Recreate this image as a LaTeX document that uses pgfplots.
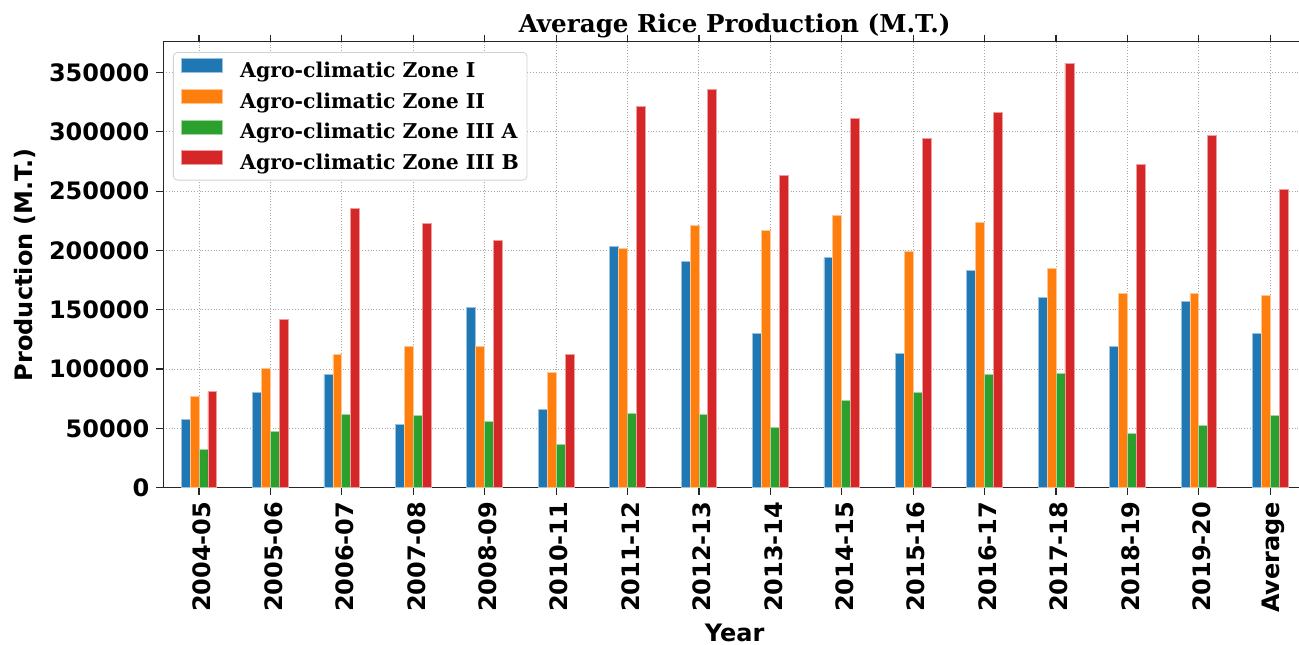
\documentclass[border=0pt]{standalone}
\usepackage{fontspec}
\setmainfont{DejaVu Sans}
\newfontfamily\serifbf{DejaVu Serif}
\usepackage{pgfplots}
\usepackage{pgfplotstable}
\pgfplotsset{compat=1.18}

\definecolor{zoneI}{HTML}{1F77B4}
\definecolor{zoneII}{HTML}{FF7F0E}
\definecolor{zoneIIIA}{HTML}{2CA02C}
\definecolor{zoneIIIB}{HTML}{D62728}

% Rice production (M.T.) per agro-climatic zone, one row per year
\pgfplotstableread{
x  z1     z2     z3    z4
0  57800  77200  32300 81200
1  80600  100600 47100 141600
2  95500  112400 61800 235500
3  53000  119100 60600 222500
4  152300 119400 55900 208200
5  66000  97500  36500 112600
6  203500 201800 62600 321200
7  190500 220800 61500 335800
8  130400 216600 51100 263600
9  193900 229600 73900 311100
10 112900 199500 80000 294500
11 183500 223700 95800 316100
12 160100 185200 96000 358000
13 119400 163800 45800 272600
14 156700 164100 52800 297000
15 130400 162100 61000 251500
}\ricedata

\begin{document}
\begin{tikzpicture}
\path[use as bounding box] (-81.65pt,-78.2pt) rectangle (567.85pt,243.85pt);
\begin{axis}[
  at={(0pt,0pt)}, anchor=south west,
  scale only axis, width=571.35pt, height=223pt,
  xmin=-0.5, xmax=15.5, ymin=0, ymax=376000,
  ybar, bar width=0.125,
  xtick={0,...,15},
  xticklabels={2004-05,2005-06,2006-07,2007-08,2008-09,2010-11,2011-12,2012-13,2013-14,2014-15,2015-16,2016-17,2017-18,2018-19,2019-20,Average},
  ytick={0,50000,...,350000},
  scaled y ticks=false,
  /pgf/number format/.cd, fixed, 1000 sep={}, assume math mode=true, /pgfplots/.cd,
  tick align=outside, major tick length=3.5pt,
  tick style={black!85, line width=0.6pt},
  axis line style={black!85, line width=0.75pt},
  xmajorgrids, ymajorgrids,
  major grid style={densely dotted, black!35, line width=0.5pt},
  ticklabel style={font=\bfseries\fontsize{12}{14}\selectfont},
  xticklabel style={rotate=90, anchor=east, yshift=-1.5pt},
  ylabel={Production (M.T.)},
  ylabel style={font=\bfseries\fontsize{12}{14}\selectfont, at={(axis description cs:-0.121,0.5)}, anchor=center, rotate=0},
  xlabel={Year},
  xlabel style={font=\bfseries\fontsize{12}{14}\selectfont, at={(axis description cs:0.5,-0.344)}, anchor=base},
  title={Average Rice Production (M.T.)},
  every axis title shift=0pt,
  title style={font=\serifbf\bfseries\fontsize{12.3}{14}\selectfont, at={(axis description cs:0.5,1.0217)}, anchor=base, yshift=0pt},
  legend cell align=left,
  legend image code/.code={\fill[#1, sharp corners] (0pt,0pt) rectangle (20.5pt,7pt);},
  legend style={
    at={(axis description cs:0,1)}, anchor=north west, xshift=4.85pt, yshift=-5.15pt,
    draw=black!18, rounded corners=2pt, fill=white,
    font=\serifbf\bfseries\fontsize{10.2}{12}\selectfont,
    inner xsep=4pt, inner ysep=3pt,
    row sep=3.25pt, column sep=8.5pt,
    nodes={inner sep=0pt, text height=7.3pt, text depth=2.35pt},
  },
]
\addplot[fill=zoneI, draw=zoneI!45!white, line width=0.4pt, bar shift=-0.1875] table[x=x, y=z1] {\ricedata};
\addplot[fill=zoneII, draw=zoneII!45!white, line width=0.4pt, bar shift=-0.0625] table[x=x, y=z2] {\ricedata};
\addplot[fill=zoneIIIA, draw=zoneIIIA!45!white, line width=0.4pt, bar shift=0.0625] table[x=x, y=z3] {\ricedata};
\addplot[fill=zoneIIIB, draw=zoneIIIB!45!white, line width=0.4pt, bar shift=0.1875] table[x=x, y=z4] {\ricedata};
\legend{Agro-climatic Zone I, Agro-climatic Zone II, Agro-climatic Zone III A, Agro-climatic Zone III B}
\end{axis}
\end{tikzpicture}
\end{document}
